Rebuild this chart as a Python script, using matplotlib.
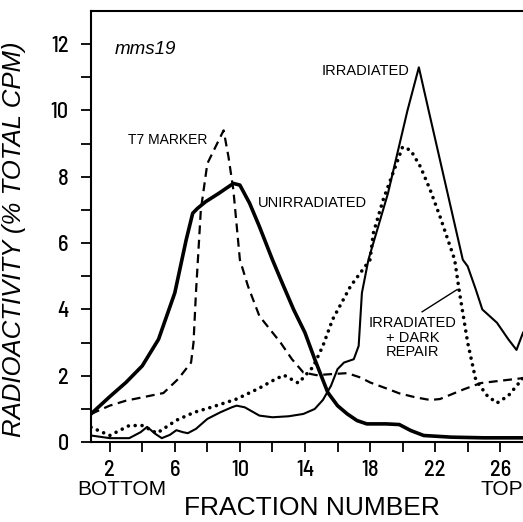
import numpy as np
import matplotlib
matplotlib.use("Agg")
from matplotlib import pyplot as plt

# fraction numbers / % total cpm
unirr_x = [0.85, 2, 3, 4, 5, 6, 6.7, 7.1, 7.4, 7.9, 8.7, 9.6, 10.0, 10.6, 11.2, 12.0, 12.6, 13.3, 14.0, 14.6, 15.4, 16.0, 16.6, 17.2, 17.8, 19.0, 19.8, 20.5, 21.3, 23, 25, 27.4]
unirr_y = [0.85, 1.37, 1.8, 2.3, 3.1, 4.5, 6.1, 6.9, 7.05, 7.25, 7.5, 7.8, 7.75, 7.2, 6.5, 5.5, 4.8, 4.0, 3.3, 2.5, 1.5, 1.1, 0.85, 0.65, 0.55, 0.55, 0.53, 0.35, 0.2, 0.15, 0.13, 0.13]

irr_x = [0.85, 2, 3.2, 3.9, 4.3, 4.8, 5.2, 5.7, 6.1, 6.5, 6.8, 7.3, 8.0, 8.8, 9.5, 9.8, 10.3, 11.2, 12.0, 13.0, 13.9, 14.6, 15.1, 15.6, 16.0, 16.4, 17.0, 17.3, 17.5, 17.9, 18.5, 19.1, 20.3, 21.0, 21.6, 22.3, 23.0, 23.7, 24.0, 24.5, 24.9, 25.8, 26.5, 27.0, 27.4]
irr_y = [0.2, 0.12, 0.12, 0.3, 0.46, 0.25, 0.12, 0.22, 0.36, 0.3, 0.27, 0.4, 0.7, 0.9, 1.05, 1.1, 1.05, 0.8, 0.75, 0.78, 0.85, 1.0, 1.27, 1.7, 2.2, 2.4, 2.5, 2.9, 4.5, 5.5, 6.5, 7.5, 10.0, 11.3, 10.0, 8.5, 7.0, 5.5, 5.3, 4.6, 4.0, 3.6, 3.1, 2.78, 3.3]

t7_x = [0.85, 2, 3, 4, 5.3, 6.2, 7.0, 7.15, 7.3, 7.6, 8.0, 8.5, 9.0, 9.3, 9.6, 10.0, 10.5, 11.2, 12.5, 13.2, 13.9, 14.7, 15.6, 16.6, 17.4, 18.0, 19.0, 19.8, 20.8, 21.7, 22.3, 22.9, 23.8, 24.8, 26.0, 27.4]
t7_y = [0.85, 1.1, 1.25, 1.35, 1.48, 1.9, 2.4, 3.0, 4.5, 7.0, 8.4, 8.9, 9.4, 8.6, 7.6, 5.5, 4.7, 3.8, 3.0, 2.5, 2.1, 2.02, 2.05, 2.08, 1.95, 1.8, 1.62, 1.47, 1.35, 1.27, 1.3, 1.42, 1.6, 1.78, 1.85, 1.93]

rep_x = [0.85, 2, 3.2, 4.0, 4.9, 6.1, 7.2, 8.3, 9.8, 11.2, 12.0, 12.7, 13.6, 14.5, 15.1, 15.7, 16.8, 18.0, 18.2, 18.8, 19.4, 20.0, 20.5, 21.1, 21.7, 22.3, 23.2, 23.5, 24.0, 24.5, 25.2, 25.8, 26.5, 27.4]
rep_y = [0.45, 0.2, 0.5, 0.5, 0.27, 0.66, 0.9, 1.06, 1.3, 1.63, 1.85, 2.02, 1.78, 2.27, 2.9, 3.7, 4.7, 5.5, 6.3, 7.3, 8.1, 8.9, 8.8, 8.3, 7.6, 6.8, 5.5, 4.5, 3.0, 1.87, 1.4, 1.18, 1.4, 1.93]

plt.rcParams['font.family'] = ['Liberation Sans', 'DejaVu Sans']

fig = plt.figure(figsize=(5.23, 5.22), dpi=100)
ax = fig.add_axes([0.174, 0.153, 0.826, 0.826])

ax.plot(unirr_x, unirr_y, color='black', lw=2.6, solid_joinstyle='round')
ax.plot(irr_x, irr_y, color='black', lw=1.5)
ax.plot(t7_x, t7_y, color='black', lw=1.6, dashes=(4, 2.5))
ax.plot(rep_x, rep_y, color='black', lw=2.6, linestyle=(0, (0.01, 1.9)), dash_capstyle='round')

ax.set_xlim(0.85, 27.4)
ax.set_ylim(0, 13)
ax.spines['right'].set_visible(False)
for s in ['left', 'top', 'bottom']:
    ax.spines[s].set_linewidth(1.5)

ax.set_xticks([2, 6, 10, 14, 18, 22, 26])
ax.set_xticks(np.arange(2, 28, 2), minor=True)
ax.set_yticks([0, 2, 4, 6, 8, 10, 12])
ax.set_yticks(np.arange(1, 13, 2), minor=True)
ax.tick_params(which='both', direction='out', width=1.3, length=7)
ax.tick_params(axis='x', labelsize=16, pad=6)
ax.tick_params(axis='y', labelsize=16, pad=9)
for lab in ax.get_xticklabels() + ax.get_yticklabels():
    lab.set_family(['Barlow Semi Condensed', 'DejaVu Sans'])
    lab.set_weight('medium')

ax.set_ylabel('RADIOACTIVITY (% TOTAL CPM)', fontsize=18.5, style='italic')
ax.yaxis.set_label_coords(-0.15, 0.47)
fig.text(0.597, 0.027, 'FRACTION NUMBER', fontsize=19, ha='center', va='center')
fig.text(0.147, 0.062, 'BOTTOM', fontsize=15, ha='left', va='center')
fig.text(1.0, 0.062, 'TOP', fontsize=15, ha='right', va='center')

ax.text(2.3, 11.85, 'mms19', fontsize=13.5, style='italic', va='center')
ax.text(8.0, 9.1, 'T7 MARKER', fontsize=10, ha='right', va='center')
ax.text(11.1, 7.2, 'UNIRRADIATED', fontsize=10.5, ha='left', va='center')
ax.text(20.4, 11.2, 'IRRADIATED', fontsize=10.5, ha='right', va='center')
ax.text(20.6, 3.15, 'IRRADIATED\n+ DARK\nREPAIR', fontsize=10.5, ha='center', va='center', linespacing=1.05)
ax.plot([21.2, 23.35], [3.93, 4.6], color='black', lw=1.0)

fig.savefig('out.png', dpi=100)
